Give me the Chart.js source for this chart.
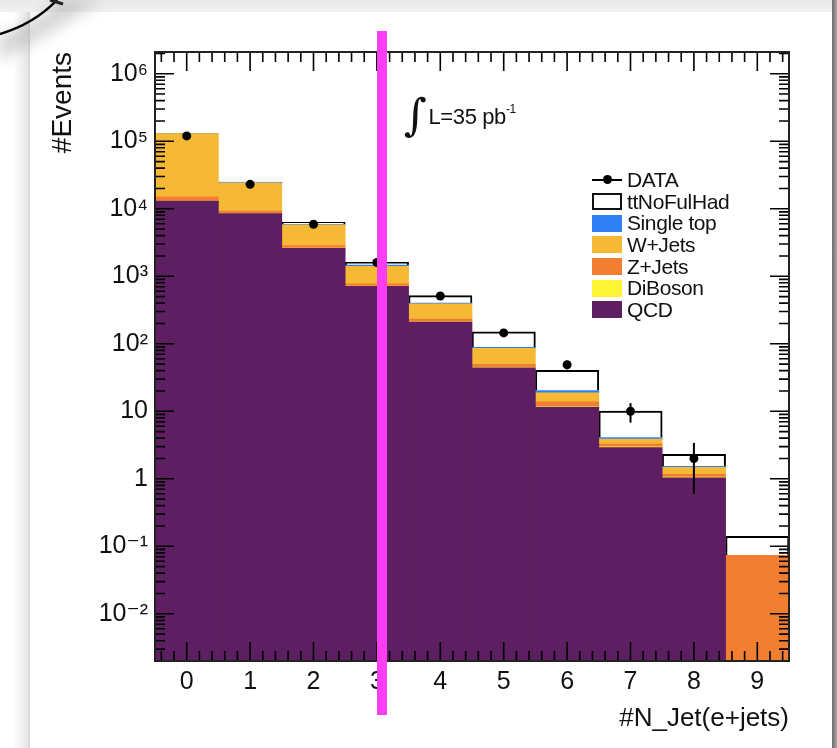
<!DOCTYPE html>
<html>
<head>
<meta charset="utf-8">
<script src="https://cdn.jsdelivr.net/npm/chart.js@4.4.0/dist/chart.umd.min.js"></script>
<style>
    html, body { margin: 0; padding: 0; }
    body {
        width: 837px; height: 748px; position: relative; overflow: hidden;
        background: #ebebeb;
        font-family: 'Liberation Sans', Arial, sans-serif;
    }
    #card { position: absolute; left: 30px; top: 12px; width: 802px; height: 736px; background: #fff; }
    #leftShade {
        position: absolute; left: 0; top: 12px; width: 30px; height: 736px;
        background: linear-gradient(to right, #fff 45%, #e6e6e6 92%, #d2d2d2);
    }
    #rightShade {
        position: absolute; left: 832px; top: 0; width: 5px; height: 748px;
        background: linear-gradient(to right, #6a6a6a, #a8a8a8);
    }
    #topShade {
        position: absolute; left: 0; top: 0; width: 832px; height: 12px;
        background: linear-gradient(to bottom, #e9e9e9, #f1f1f1);
    }
    #curve { position: absolute; left: 0; top: 0; }
    #chart { position: absolute; left: 0; top: 0; }
    #marker {
        position: absolute; left: 377px; top: 31px; width: 10px; height: 684px;
        background: #fd3cf6;
    }
    #lumi {
        position: absolute; left: 404px; top: 89px; color: #111;
        font-size: 22px; letter-spacing: -0.4px; white-space: nowrap;
    }
    #lumi .int { font-size: 44px; font-family: 'DejaVu Serif', serif; vertical-align: -6px; margin-right: 2px; }
    #lumi sup { font-size: 12px; position: relative; top: -3px; }
    #legend {
        position: absolute; left: 592px; top: 169px; color: #111;
        font-size: 21px; letter-spacing: -0.4px;
    }
    #legend .row { height: 21.7px; display: flex; align-items: center; white-space: nowrap; }
    #legend .sym { width: 30px; height: 17px; margin-right: 5px; box-sizing: border-box; position: relative; }
    #legend .sym.line::before {
        content: ''; position: absolute; left: 0; right: 0; top: 7.5px; height: 2px; background: #000;
    }
    #legend .sym.line::after {
        content: ''; position: absolute; left: 11px; top: 4px; width: 9px; height: 9px;
        border-radius: 50%; background: #000;
    }
</style>
</head>
<body>
<div id="topShade"></div>
<div id="leftShade"></div>
<div id="card"></div>
<div id="rightShade"></div>
<svg id="curve" width="130" height="80">
    <defs>
        <filter id="blur"><feGaussianBlur stdDeviation="7"/></filter>
        <linearGradient id="fade" x1="0" y1="0" x2="1" y2="1">
            <stop offset="0" stop-color="#555"/>
            <stop offset="1" stop-color="#fff" stop-opacity="0"/>
        </linearGradient>
    </defs>
    <path d="M0,36 Q36,25 60,0 L105,0 Q60,30 0,62 Z" fill="url(#fade)" opacity="0.7" filter="url(#blur)"/>
    <path d="M0,34 Q34,24 57,0" fill="none" stroke="#000" stroke-width="2.5"/>
    <path d="M50,0 L63,4" fill="none" stroke="#222" stroke-width="3"/>
</svg>
<canvas id="chart" width="837" height="748"></canvas>
<div id="lumi"><span class="int">∫</span>L=35 pb<sup>-1</sup></div>
<div id="legend"></div>
<div id="marker"></div>

<script>
(function () {
    'use strict';

    const nJet = ['0', '1', '2', '3', '4', '5', '6', '7', '8', '9'];

    const dataCounts = [1.2e5, 2.3e4, 5.9e3, 1.6e3, 510, 145, 49, 10, 2, null];
    const dataErr = [350, 150, 77, 40, 23, 12, 7, 3.2, 1.4, null];

    // stacked MC, bottom to top
    const qcd = [1.3e4, 8.5e3, 2.6e3, 710, 210, 44, 11.5, 2.9, 1.03, 0];
    const diBoson = [30, 20, 10, 5, 2, 0.8, 0.3, 0.08, 0.03, 0];
    const zJets = [2000, 700, 250, 60, 20, 5, 2, 0.3, 0.1, 0.0735];
    const wJets = [1.15e5, 1.48e4, 2.9e3, 630, 160, 36, 5, 0.6, 0.32, 0];
    const singleTop = [300, 250, 120, 60, 10, 3, 1.5, 0.2, 0.05, 0];
    const ttNoFulHad = [400, 500, 400, 140, 115, 62, 20, 6, 0.77, 0.067];

    const yMin = 0.002;
    const yMax = 2.1e6;

    const FONT = "'Liberation Sans', 'DejaVu Sans', sans-serif";
    const SUP = { '-': '⁻', '0': '⁰', '1': '¹', '2': '²', '3': '³', '4': '⁴', '5': '⁵', '6': '⁶', '7': '⁷', '8': '⁸', '9': '⁹' };

    function powLabel(v) {
        const e = Math.round(Math.log10(v));
        if (Math.abs(Math.log10(v) - e) > 1e-6) {
            return '';
        }
        if (e === 0) return '1';
        if (e === 1) return '10';
        return '10' + String(e).split('').map(function (c) { return SUP[c]; }).join('');
    }

    const mcSeries = [
        { label: 'QCD', data: qcd, color: '#5d1f61' },
        { label: 'DiBoson', data: diBoson, color: '#fdf436' },
        { label: 'Z+Jets', data: zJets, color: '#f27e31' },
        { label: 'W+Jets', data: wJets, color: '#f6b935' },
        { label: 'Single top', data: singleTop, color: '#2f80f4' },
        { label: 'ttNoFulHad', data: ttNoFulHad, color: '#ffffff', outline: true }
    ];

    // ROOT style frame, inner ticks and data error bars
    const rootFrame = {
        id: 'rootFrame',
        afterDatasetsDraw: function (chart) {
            const ctx = chart.ctx;
            const a = chart.chartArea;
            const x = chart.scales.x;
            const y = chart.scales.y;

            ctx.save();
            ctx.strokeStyle = '#000';
            ctx.lineWidth = 2;
            const meta = chart.getDatasetMeta(0);
            dataCounts.forEach(function (v, i) {
                if (v === null) return;
                const px = meta.data[i].x;
                ctx.beginPath();
                ctx.moveTo(px, y.getPixelForValue(v + dataErr[i]));
                ctx.lineTo(px, y.getPixelForValue(Math.max(v - dataErr[i], yMin)));
                ctx.stroke();
            });

            ctx.lineWidth = 1.6;
            ctx.beginPath();
            for (let k = -2; k <= 47; k++) {
                const px = x.getPixelForValue(k * 0.2);
                const len = k % 5 === 0 ? 19 : 10;
                ctx.moveTo(px, a.bottom);
                ctx.lineTo(px, a.bottom - len);
                ctx.moveTo(px, a.top);
                ctx.lineTo(px, a.top + len);
            }
            for (let e = -3; e <= 6; e++) {
                for (let m = 1; m <= 9; m++) {
                    const v = m * Math.pow(10, e);
                    if (v < yMin || v > yMax) continue;
                    const py = y.getPixelForValue(v);
                    const len = m === 1 ? 19 : 10;
                    ctx.moveTo(a.left, py);
                    ctx.lineTo(a.left + len, py);
                    ctx.moveTo(a.right, py);
                    ctx.lineTo(a.right - len, py);
                }
            }
            ctx.stroke();

            ctx.lineWidth = 2;
            ctx.strokeStyle = '#222';
            ctx.strokeRect(a.left, a.top, a.width, a.height);
            ctx.restore();
        }
    };

    const datasets = [{
        type: 'line',
        label: 'DATA',
        data: dataCounts,
        stack: 'data',
        showLine: false,
        pointRadius: 4.5,
        pointBackgroundColor: '#000',
        pointBorderColor: '#000',
        pointBorderWidth: 0
    }];

    mcSeries.forEach(function (s) {
        datasets.push({
            type: 'bar',
            label: s.label,
            data: s.data,
            stack: 'mc',
            backgroundColor: s.color,
            borderColor: '#000',
            borderWidth: s.outline ? 2 : 0,
            borderSkipped: 'start',
            barPercentage: 1,
            categoryPercentage: 1
        });
    });

    new Chart(document.getElementById('chart'), {
        type: 'bar',
        data: { labels: nJet, datasets: datasets },
        plugins: [rootFrame],
        options: {
            responsive: false,
            animation: false,
            layout: { padding: { left: 30, right: 48, top: 52, bottom: 12 } },
            plugins: { legend: { display: false }, tooltip: { enabled: false } },
            scales: {
                x: {
                    type: 'category',
                    offset: true,
                    stacked: true,
                    grid: { display: false, drawTicks: false },
                    border: { display: false },
                    ticks: { padding: 6, color: '#111', font: { family: FONT, size: 25 } },
                    title: {
                        display: true, text: '#N_Jet(e+jets)', align: 'end', color: '#111',
                        font: { family: FONT, size: 26 }, padding: { top: 0, bottom: 2 }
                    },
                    afterFit: function (scale) { scale.height = 75; }
                },
                y: {
                    type: 'logarithmic',
                    stacked: true,
                    min: yMin,
                    max: yMax,
                    grid: { display: false, drawTicks: false },
                    border: { display: false },
                    ticks: {
                        autoSkip: false, padding: 7, color: '#111',
                        font: { family: FONT, size: 25 },
                        callback: function (v) { return powLabel(v); }
                    },
                    title: {
                        display: true, text: '#Events', align: 'end', color: '#111',
                        font: { family: FONT, size: 28 }, padding: { top: 16, bottom: 0 }
                    },
                    afterFit: function (scale) { scale.width = 125; }
                }
            }
        }
    });

    // legend, top to bottom as in the reference
    const legend = document.getElementById('legend');
    const rows = [{ label: 'DATA', line: true }].concat(mcSeries.slice().reverse());
    rows.forEach(function (r) {
        const row = document.createElement('div');
        row.className = 'row';
        const sym = document.createElement('span');
        sym.className = 'sym' + (r.line ? ' line' : '');
        if (!r.line) {
            sym.style.background = r.color;
            if (r.outline) sym.style.border = '2px solid #111';
        }
        row.appendChild(sym);
        row.appendChild(document.createTextNode(r.label));
        legend.appendChild(row);
    });
})();
</script>
</body>
</html>
